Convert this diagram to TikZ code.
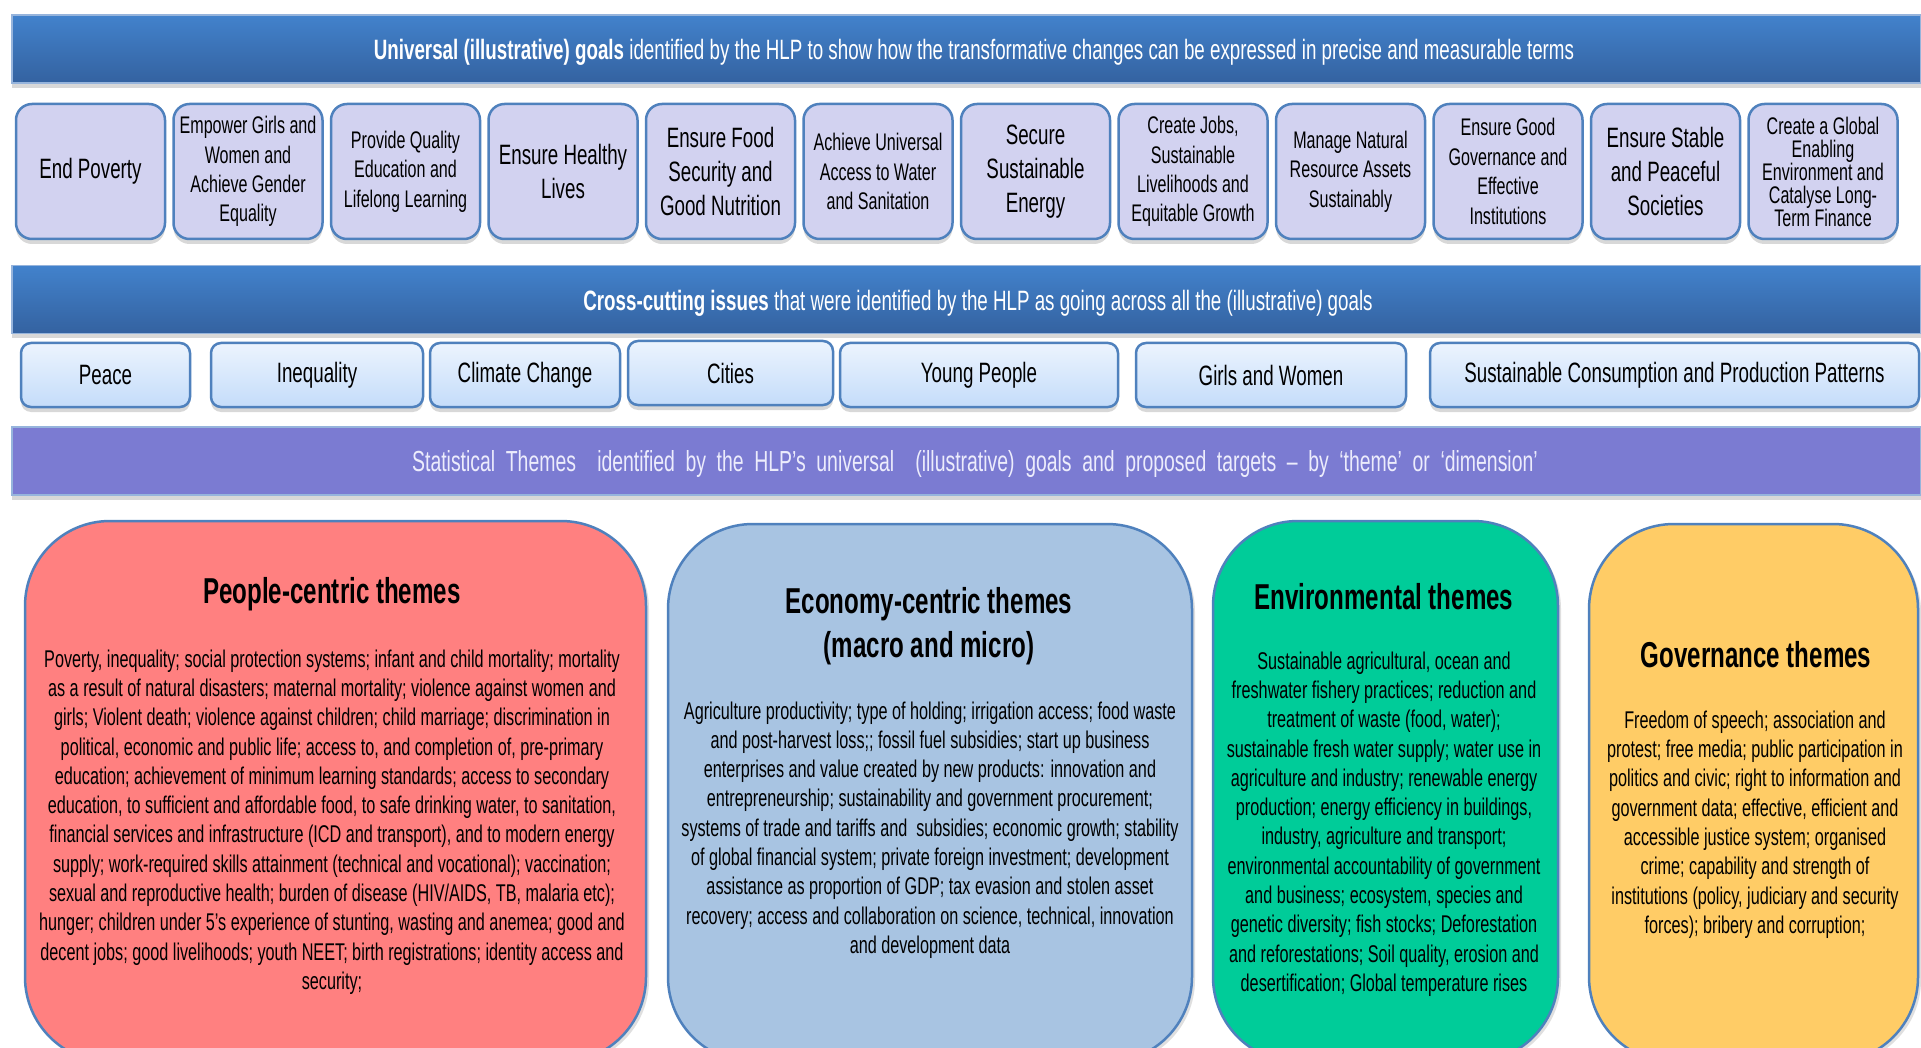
\documentclass[tikz,border=0pt]{standalone}
\usepackage{fontspec}
\setmainfont{Liberation Sans}[FakeStretch=0.67]
\usetikzlibrary{shadows}
\definecolor{bantop}{RGB}{66,130,204}
\definecolor{banbot}{RGB}{52,98,160}
\definecolor{banedge}{RGB}{150,180,220}
\definecolor{goalfill}{RGB}{210,210,240}
\definecolor{edgeblue}{RGB}{79,129,189}
\definecolor{isstop}{RGB}{236,244,254}
\definecolor{issbot}{RGB}{196,220,250}
\definecolor{purp}{RGB}{123,123,210}
\definecolor{purptext}{RGB}{236,236,252}
\definecolor{pplfill}{RGB}{255,128,128}
\definecolor{ecofill}{RGB}{168,196,226}
\definecolor{envfill}{RGB}{0,204,153}
\definecolor{govfill}{RGB}{255,204,102}
\newcommand{\widesp}{\spaceskip=10.6pt plus 2pt\relax}
\begin{document}
\begin{tikzpicture}[x=1pt,y=-1pt,
  shad/.style={drop shadow={shadow xshift=0pt,shadow yshift=-5pt,opacity=0.3}},
  banner/.style={draw=banedge,line width=1.2,top color=bantop,bottom color=banbot,minimum width=1909,minimum height=68,inner sep=0,shad},
  bantext/.style={text=white,font=\fontsize{28}{32}\selectfont,inner sep=0},
  goal/.style={draw=edgeblue,line width=2.5,fill=goalfill,rounded corners=16,minimum width=149,minimum height=135,align=center,inner sep=0,shad},
  gL/.style={font=\fontsize{28}{34}\selectfont},
  gM/.style={font=\fontsize{24}{29.4}\selectfont},
  gS/.style={font=\fontsize{24}{23}\selectfont},
  issue/.style={draw=edgeblue,line width=2.5,top color=isstop,bottom color=issbot,rounded corners=10,minimum height=64,inner sep=0,font=\fontsize{28}{32}\selectfont,shad},
  theme/.style={draw=edgeblue,line width=2.5,rounded corners=85,inner sep=0,drop shadow={shadow xshift=3pt,shadow yshift=-3pt,opacity=0.25}},
  ttitle/.style={font=\fontsize{36}{44}\selectfont\bfseries,align=center,inner sep=0},
  tbody/.style={font=\fontsize{24.2}{29.3}\selectfont,align=center,inner sep=0}
]
\useasboundingbox (0,0) rectangle (1921,1048);
\clip (0,0) rectangle (1921,1048);
\fill[white] (0,0) rectangle (1921,1048);

% top banner
\node[banner] (ban1) at (966.5,49) {};
\node[bantext] (ban1t) at (974,52) {{\bfseries Universal (illustrative) goals} identified by the HLP to show how the transformative changes can be expressed in precise and measurable terms};

% goals
\node[goal,gL] (g1) at (90.5,171.5) {End Poverty};
\node[goal,gM] (g2) at (248,171.5) {Empower Girls and\\Women and\\Achieve Gender\\Equality};
\node[goal,gM] (g3) at (405.5,171.5) {Provide Quality\\Education and\\Lifelong Learning};
\node[goal,gL] (g4) at (563,171.5) {Ensure Healthy\\Lives};
\node[goal,gL] (g5) at (720.5,171.5) {Ensure Food\\Security and\\Good Nutrition};
\node[goal,gM] (g6) at (878,171.5) {Achieve Universal\\Access to Water\\and Sanitation};
\node[goal,gL] (g7) at (1035.5,171.5) {Secure\\Sustainable\\Energy};
\node[goal,gM] (g8) at (1193,171.5) {Create Jobs,\\Sustainable\\Livelihoods and\\Equitable Growth};
\node[goal,gM] (g9) at (1350.5,171.5) {Manage Natural\\Resource Assets\\Sustainably};
\node[goal,gM] (g10) at (1508,171.5) {Ensure Good\\Governance and\\Effective\\Institutions};
\node[goal,gL] (g11) at (1665.5,171.5) {Ensure Stable\\and Peaceful\\Societies};
\node[goal,gS] (g12) at (1823,171.5) {Create a Global\\Enabling\\Environment and\\Catalyse Long-\\Term Finance};

% cross-cutting banner
\node[banner] (ban2) at (966.5,299.5) {};
\node[bantext] (ban2t) at (978,303) {{\bfseries Cross-cutting issues} that were identified by the HLP as going across all the (illustrative) goals};

% issues
\node[issue,minimum width=169] (i1) at (105.5,375) {Peace};
\node[issue,minimum width=212] (i2) at (317,375) {Inequality};
\node[issue,minimum width=190] (i3) at (525,375) {Climate Change};
\node[issue,minimum width=205] (i4) at (730.5,373) {Cities};
\node[issue,minimum width=278] (i5) at (979,375) {Young People};
\node[issue,minimum width=270] (i6) at (1271,375) {Girls and Women};
\node[issue,minimum width=489] (i7) at (1674.5,375) {Sustainable Consumption and Production Patterns};

% purple banner
\node[draw=banedge,line width=1.2,fill=purp,minimum width=1909,minimum height=68,inner sep=0,shad] (ban3) at (966.5,461) {};
\node[text=purptext,font=\fontsize{29}{34}\selectfont,inner sep=0] (ban3t) at (975,464) {\widesp Statistical Themes\ \ identified by the HLP’s universal\ \ (illustrative) goals and proposed targets – by ‘theme’ or ‘dimension’};

% theme boxes
\node[theme,fill=pplfill,minimum width=621,minimum height=541] (ppl) at (335.5,791.5) {};
\node[theme,fill=ecofill,minimum width=524,minimum height=538] (eco) at (930,793) {};
\node[theme,fill=envfill,minimum width=345,minimum height=541] (env) at (1385.5,791.5) {};
\node[theme,fill=govfill,minimum width=329,minimum height=538] (gov) at (1753.5,793) {};

\node[ttitle] (pplt) at (332,594) {People-centric themes};
\node[tbody] (pplb) at (332,822) {Poverty, inequality; social protection systems; infant and child mortality; mortality\\
as a result of natural disasters; maternal mortality; violence against women and\\
girls; Violent death; violence against children; child marriage; discrimination in\\
political, economic and public life; access to, and completion of, pre-primary\\
education; achievement of minimum learning standards; access to secondary\\
education, to sufficient and affordable food, to safe drinking water, to sanitation,\\
financial services and infrastructure (ICD and transport), and to modern energy\\
supply; work-required skills attainment (technical and vocational); vaccination;\\
sexual and reproductive health; burden of disease (HIV/AIDS, TB, malaria etc);\\
hunger; children under 5’s experience of stunting, wasting and anemea; good and\\
decent jobs; good livelihoods; youth NEET; birth registrations; identity access and\\
security;};

\node[ttitle] (ecot) at (929,626) {Economy-centric themes\\(macro and micro)};
\node[tbody] (ecob) at (930,830) {Agriculture productivity; type of holding; irrigation access; food waste\\
and post-harvest loss;; fossil fuel subsidies; start up business\\
enterprises and value created by new products: innovation and\\
entrepreneurship; sustainability and government procurement;\\
systems of trade and tariffs and\ \ subsidies; economic growth; stability\\
of global financial system; private foreign investment; development\\
assistance as proportion of GDP; tax evasion and stolen asset\\
recovery; access and collaboration on science, technical, innovation\\
and development data};

\node[ttitle] (envt) at (1384,597) {Environmental themes};
\node[tbody] (envb) at (1384,824) {Sustainable agricultural, ocean and\\
freshwater fishery practices; reduction and\\
treatment of waste (food, water);\\
sustainable fresh water supply; water use in\\
agriculture and industry; renewable energy\\
production; energy efficiency in buildings,\\
industry, agriculture and transport;\\
environmental accountability of government\\
and business; ecosystem, species and\\
genetic diversity; fish stocks; Deforestation\\
and reforestations; Soil quality, erosion and\\
desertification; Global temperature rises};

\node[ttitle] (govt) at (1756,655) {Governance themes};
\node[tbody] (govb) at (1755,824.5) {Freedom of speech; association and\\
protest; free media; public participation in\\
politics and civic; right to information and\\
government data; effective, efficient and\\
accessible justice system; organised\\
crime; capability and strength of\\
institutions (policy, judiciary and security\\
forces); bribery and corruption;};
\end{tikzpicture}
\end{document}
